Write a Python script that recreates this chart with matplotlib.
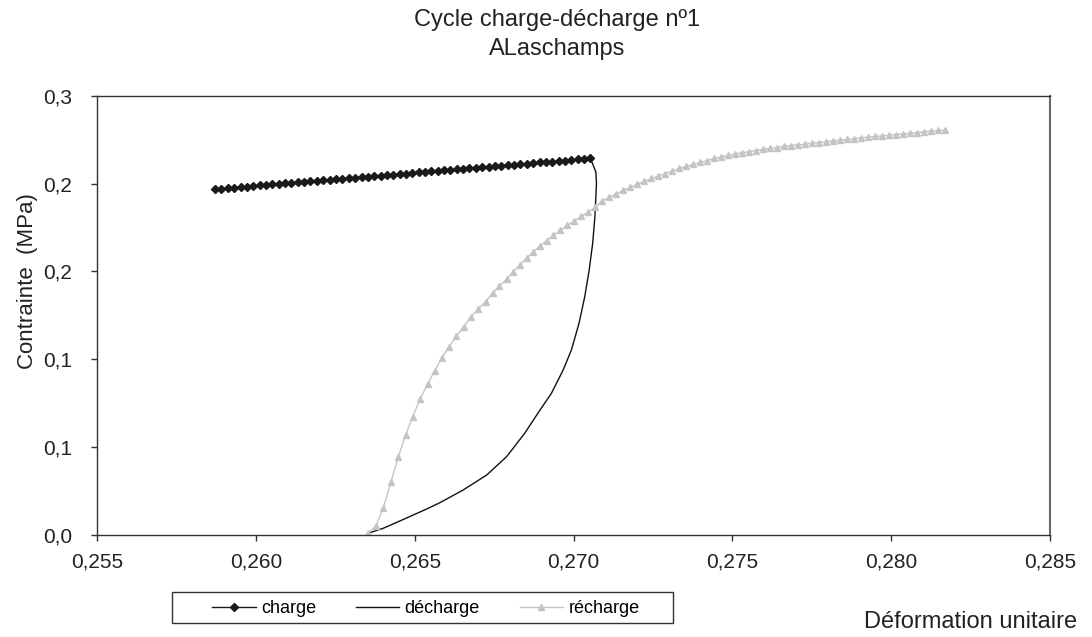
import matplotlib
matplotlib.use("Agg")
import matplotlib.pyplot as plt
from matplotlib.patches import Rectangle
from matplotlib.ticker import FixedLocator, FixedFormatter

plt.rcParams['font.family'] = ['Liberation Sans', 'DejaVu Sans']

# charge (loading) branch
charge_x = [0.25871, 0.25891, 0.25911, 0.25931, 0.25951, 0.25971, 0.25991, 0.26011,
            0.26031, 0.26051, 0.26071, 0.26091, 0.26111, 0.26131, 0.26151, 0.26171,
            0.26191, 0.26212, 0.26232, 0.26252, 0.26272, 0.26292, 0.26312, 0.26332,
            0.26352, 0.26372, 0.26392, 0.26412, 0.26432, 0.26452, 0.26472, 0.26492,
            0.26512, 0.26532, 0.26552, 0.26572, 0.26592, 0.26612, 0.26632, 0.26652,
            0.26672, 0.26692, 0.26712, 0.26732, 0.26752, 0.26772, 0.26792, 0.26812,
            0.26832, 0.26852, 0.26872, 0.26893, 0.26913, 0.26933, 0.26953, 0.26973,
            0.26993, 0.27013, 0.27033, 0.27053]
charge_y = [0.1968, 0.1971, 0.1974, 0.1977, 0.1980, 0.1983, 0.1986, 0.1989,
            0.1992, 0.1995, 0.1998, 0.2001, 0.2004, 0.2007, 0.2010, 0.2013,
            0.2016, 0.2018, 0.2021, 0.2024, 0.2027, 0.2030, 0.2033, 0.2036,
            0.2039, 0.2042, 0.2045, 0.2048, 0.2051, 0.2054, 0.2057, 0.2060,
            0.2063, 0.2066, 0.2069, 0.2072, 0.2075, 0.2078, 0.2081, 0.2084,
            0.2087, 0.2090, 0.2093, 0.2096, 0.2099, 0.2102, 0.2105, 0.2108,
            0.2111, 0.2114, 0.2117, 0.2120, 0.2122, 0.2125, 0.2128, 0.2131,
            0.2134, 0.2137, 0.2140, 0.2143]

# décharge (unloading) branch
decharge_x = [0.27053, 0.27070, 0.27072, 0.27067, 0.27060, 0.27049, 0.27035, 0.27017,
              0.26993, 0.26967, 0.26930, 0.26894, 0.26846, 0.26789, 0.26726, 0.26652,
              0.26579, 0.26537, 0.26463, 0.26400, 0.26353]
decharge_y = [0.2143, 0.2066, 0.2002, 0.1812, 0.1660, 0.1508, 0.1356, 0.1205,
              0.1053, 0.0939, 0.0806, 0.0711, 0.0579, 0.0446, 0.0341, 0.0256,
              0.0184, 0.0148, 0.0088, 0.0038, 0.0010]

# récharge (reloading) branch
recharge_x = [0.26353, 0.26377, 0.26400, 0.26425, 0.26448, 0.26471, 0.26493, 0.26516,
              0.26540, 0.26563, 0.26584, 0.26608, 0.26631, 0.26654, 0.26676, 0.26699,
              0.26723, 0.26745, 0.26765, 0.26789, 0.26810, 0.26831, 0.26852, 0.26872,
              0.26894, 0.26915, 0.26936, 0.26958, 0.26980, 0.27002, 0.27024, 0.27046,
              0.27068, 0.27090, 0.27112, 0.27134, 0.27156, 0.27178, 0.27200, 0.27223,
              0.27245, 0.27267, 0.27289, 0.27311, 0.27333, 0.27355, 0.27377, 0.27399,
              0.27421, 0.27443, 0.27465, 0.27487, 0.27509, 0.27531, 0.27553, 0.27575,
              0.27597, 0.27619, 0.27641, 0.27663, 0.27685, 0.27707, 0.27729, 0.27751,
              0.27773, 0.27795, 0.27817, 0.27839, 0.27862, 0.27884, 0.27906, 0.27928,
              0.27950, 0.27972, 0.27994, 0.28016, 0.28038, 0.28060, 0.28082, 0.28104,
              0.28126, 0.28148, 0.28170]
recharge_y = [0.0010, 0.0051, 0.0152, 0.0303, 0.0446, 0.0569, 0.0673, 0.0772,
              0.0859, 0.0935, 0.1006, 0.1072, 0.1133, 0.1186, 0.1239, 0.1285,
              0.1328, 0.1376, 0.1417, 0.1455, 0.1499, 0.1537, 0.1575, 0.1609,
              0.1645, 0.1675, 0.1705, 0.1733, 0.1762, 0.1787, 0.1813, 0.1838,
              0.1864, 0.1901, 0.1921, 0.1941, 0.1961, 0.1978, 0.1995, 0.2012,
              0.2029, 0.2043, 0.2057, 0.2072, 0.2086, 0.2097, 0.2109, 0.2120,
              0.2131, 0.2143, 0.2151, 0.2160, 0.2168, 0.2175, 0.2182, 0.2188,
              0.2194, 0.2200, 0.2205, 0.2211, 0.2216, 0.2220, 0.2224, 0.2229,
              0.2233, 0.2238, 0.2242, 0.2247, 0.2251, 0.2255, 0.2260, 0.2264,
              0.2268, 0.2271, 0.2275, 0.2279, 0.2282, 0.2286, 0.2290, 0.2294,
              0.2298, 0.2302, 0.2305]

x_ticks = [0.255, 0.260, 0.265, 0.270, 0.275, 0.280, 0.285]
x_labels = ["0,255", "0,260", "0,265", "0,270", "0,275", "0,280", "0,285"]
y_ticks = [0.0, 0.05, 0.10, 0.15, 0.20, 0.25]
y_labels = ["0,0", "0,1", "0,1", "0,2", "0,2", "0,3"]

fig = plt.figure(figsize=(10.92, 6.37), dpi=100)
ax = fig.add_axes([0.0891, 0.1601, 0.8724, 0.6897])

ax.plot(charge_x, charge_y, color="#1a1a1a", lw=1, marker="D", markersize=3.6,
        label="charge")
ax.plot(decharge_x, decharge_y, color="#111111", lw=1, label="décharge")
ax.plot(recharge_x, recharge_y, color="#c4c4c4", lw=1, marker="^", markersize=5,
        label="récharge")

ax.set_xlim(0.255, 0.285)
ax.set_ylim(0.0, 0.25)
ax.xaxis.set_major_locator(FixedLocator(x_ticks))
ax.xaxis.set_major_formatter(FixedFormatter(x_labels))
ax.yaxis.set_major_locator(FixedLocator(y_ticks))
ax.yaxis.set_major_formatter(FixedFormatter(y_labels))
ax.tick_params(direction="out", length=4, width=1, colors="#333333",
               labelsize=15, labelcolor="#222222")
ax.tick_params(axis="x", pad=8.5)
ax.tick_params(axis="y", pad=14)
for s in ax.spines.values():
    s.set_color("#333333")
    s.set_linewidth(1)
ax.spines["right"].set_color("#666666")
ax.spines["right"].set_linewidth(1.5)

fig.text(0.51, 0.968, "Cycle charge-décharge nº1", ha="center", va="center",
         fontsize=17, color="#222222")
fig.text(0.51, 0.923, "ALaschamps", ha="center", va="center",
         fontsize=17, color="#222222")
fig.text(0.025, 0.558, "Contrainte  (MPa)", rotation=90, ha="center", va="center",
         fontsize=16, color="#222222")
fig.text(0.986, 0.023, "Déformation unitaire", ha="right", va="center",
         fontsize=17, color="#222222")

# legend box is wider than its content, so draw the frame separately
fig.patches.append(Rectangle((0.1572, 0.0215), 0.4591, 0.0495, transform=fig.transFigure,
                             fill=False, edgecolor="#333333", linewidth=1))
fig.legend(loc="center", bbox_to_anchor=(0.3901, 0.0440), ncol=3,
           fontsize=13, frameon=False, handlelength=2.4,
           handletextpad=0.3, columnspacing=2.2)

fig.savefig("out.png", dpi=100)
